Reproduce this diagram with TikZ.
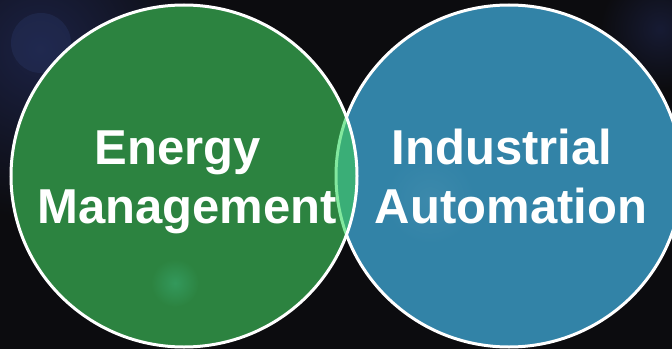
\documentclass[tikz,border=0pt]{standalone}
\usepackage{fontspec}
\setmainfont{Liberation Sans}
\definecolor{bgc}{HTML}{0C0C0F}
\definecolor{navy}{HTML}{1B2143}
\definecolor{bokeh}{HTML}{283562}
\definecolor{vgreen}{HTML}{2C8340}
\definecolor{vblue}{HTML}{3283A7}
\definecolor{lensc}{HTML}{3AAE77}
\definecolor{lensline}{HTML}{82E89E}
\tikzset{
  outline/.style={draw=white, line width=3pt},
  label/.style={text=white, font=\bfseries\fontsize{49}{58}\selectfont, anchor=base, inner sep=0pt}
}
\begin{document}
\begin{tikzpicture}[x=1pt,y=1pt]
\useasboundingbox (0,0) rectangle (672,349);
% background
\fill[bgc] (0,0) rectangle (672,349);
\shade[inner color=navy, outer color=bgc] (40,300) circle (170);
\shade[inner color=navy!70!bgc, outer color=bgc] (660,320) circle (60);
\fill[bokeh, opacity=0.4] (41,306) circle (30);
% blue circle
\fill[vblue] (509,173) ellipse (173 and 171);
\shade[inner color=vblue!95!white, outer color=vblue] (430,150) circle (45);
\draw[outline] (509,173) ellipse (173 and 171);
% green circle
\fill[vgreen] (184,173) ellipse (173 and 171);
\shade[inner color=lensc!50!vgreen, outer color=vgreen] (175,66) circle (24);
% lens
\begin{scope}
  \clip (184,173) ellipse (173 and 171);
  \fill[lensc] (509,173) ellipse (173 and 171);
  \draw[lensline, line width=3pt] (509,173) ellipse (173 and 171);
\end{scope}
\draw[outline] (184,173) ellipse (173 and 171);
% texts
\node[label] (e1) at (178,185) {Energy};
\node[label] (e2) at (187,125.5) {Management};
\node[label] (i1) at (502,185) {Industrial};
\node[label] (i2) at (511,125.5) {Automation};
\end{tikzpicture}
\end{document}
